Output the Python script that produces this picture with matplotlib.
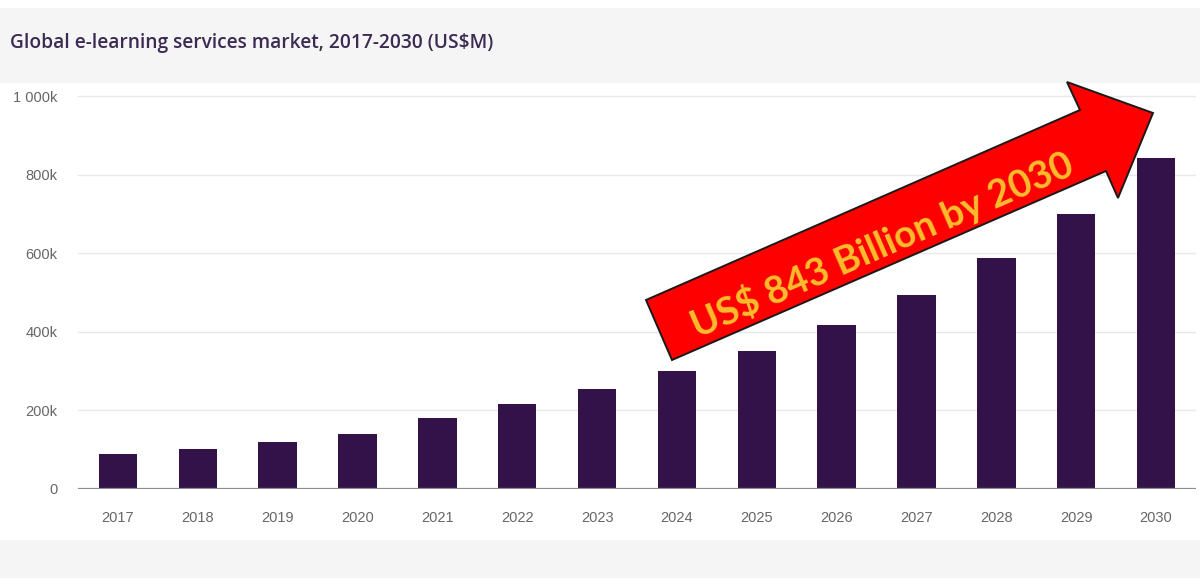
import matplotlib.pyplot as plt
from matplotlib.patches import Polygon, Rectangle
import numpy as np

# market size by year, US$ thousand million
years = ["2017", "2018", "2019", "2020", "2021", "2022", "2023",
         "2024", "2025", "2026", "2027", "2028", "2029", "2030"]
market = [89, 102, 120, 140, 181, 216, 254, 300, 351, 417, 494, 588, 700, 843]

y_ticks = [0, 200, 400, 600, 800, 1000]
y_tick_labels = ["0", "200k", "400k", "600k", "800k", "1 000k"]

title = "Global e-learning services market, 2017-2030 (US$M)"
callout = "US$ 843 Billion by 2030"

W, H = 1200, 585
fig = plt.figure(figsize=(W / 100, H / 100), dpi=100)
fig.patch.set_facecolor("white")


def px(x, y):
    # pixel position (from top-left) -> figure fraction
    return x / W, 1 - y / H


# grey header and footer bands
fig.patches.append(Rectangle((0, 1 - 83 / H), 1, 75 / H, transform=fig.transFigure,
                             facecolor="#f5f5f5", edgecolor="none", zorder=0))
fig.patches.append(Rectangle((0, 1 - 578 / H), 1, 38 / H, transform=fig.transFigure,
                             facecolor="#f5f5f5", edgecolor="none", zorder=0))

fig.text(*px(10, 43), title, fontsize=13.8, fontweight=600, color="#3b2a52",
         family="Open Sans", va="center", ha="left", parse_math=False)

# axes: 0 at y=489px, 1000k at y=96px
k_px = 393 / 1000
ymax = 1010
ax_left, ax_bottom = px(78, 489)
ax = fig.add_axes([ax_left, ax_bottom, 1118 / W, ymax * k_px / H])
ax.set_facecolor("white")

x = np.arange(len(years))
ax.bar(x, market, width=0.48, color="#33124a", zorder=3)

ax.set_xlim(-0.5, len(years) - 0.5)
ax.set_ylim(0, ymax)
ax.set_yticks(y_ticks)
ax.set_yticklabels(y_tick_labels)
ax.set_xticks(x)
ax.set_xticklabels(years)
ax.tick_params(axis="y", length=0, pad=15, labelsize=10.5, labelcolor="#666666")
ax.tick_params(axis="x", length=0, pad=16, labelsize=10.5, labelcolor="#666666")
for lbl in ax.get_xticklabels() + ax.get_yticklabels():
    lbl.set_family("Liberation Sans")

ax.grid(axis="y", color="#e8e8e8", linewidth=1, zorder=0)
for s in ax.spines.values():
    s.set_visible(False)
ax.axhline(0, color="#8c8c8c", linewidth=1.6, zorder=4)

# red callout arrow (pixel outline)
arrow_px = [(646, 300), (1080, 110), (1067, 82), (1153, 113),
            (1118, 198), (1106, 171), (672, 360)]
arrow = Polygon([px(a, b) for a, b in arrow_px], closed=True, transform=fig.transFigure,
                facecolor="#ff0000", edgecolor="#1a1a1a", linewidth=1.4, zorder=10)
fig.patches.append(arrow)

fig.text(*px(882, 244), callout, fontsize=27.5, fontweight="bold", color="#fbbd2c",
         family="Lato", rotation=23.5, rotation_mode="anchor",
         ha="center", va="center", parse_math=False, zorder=11)

fig.savefig("out.png", dpi=100)
